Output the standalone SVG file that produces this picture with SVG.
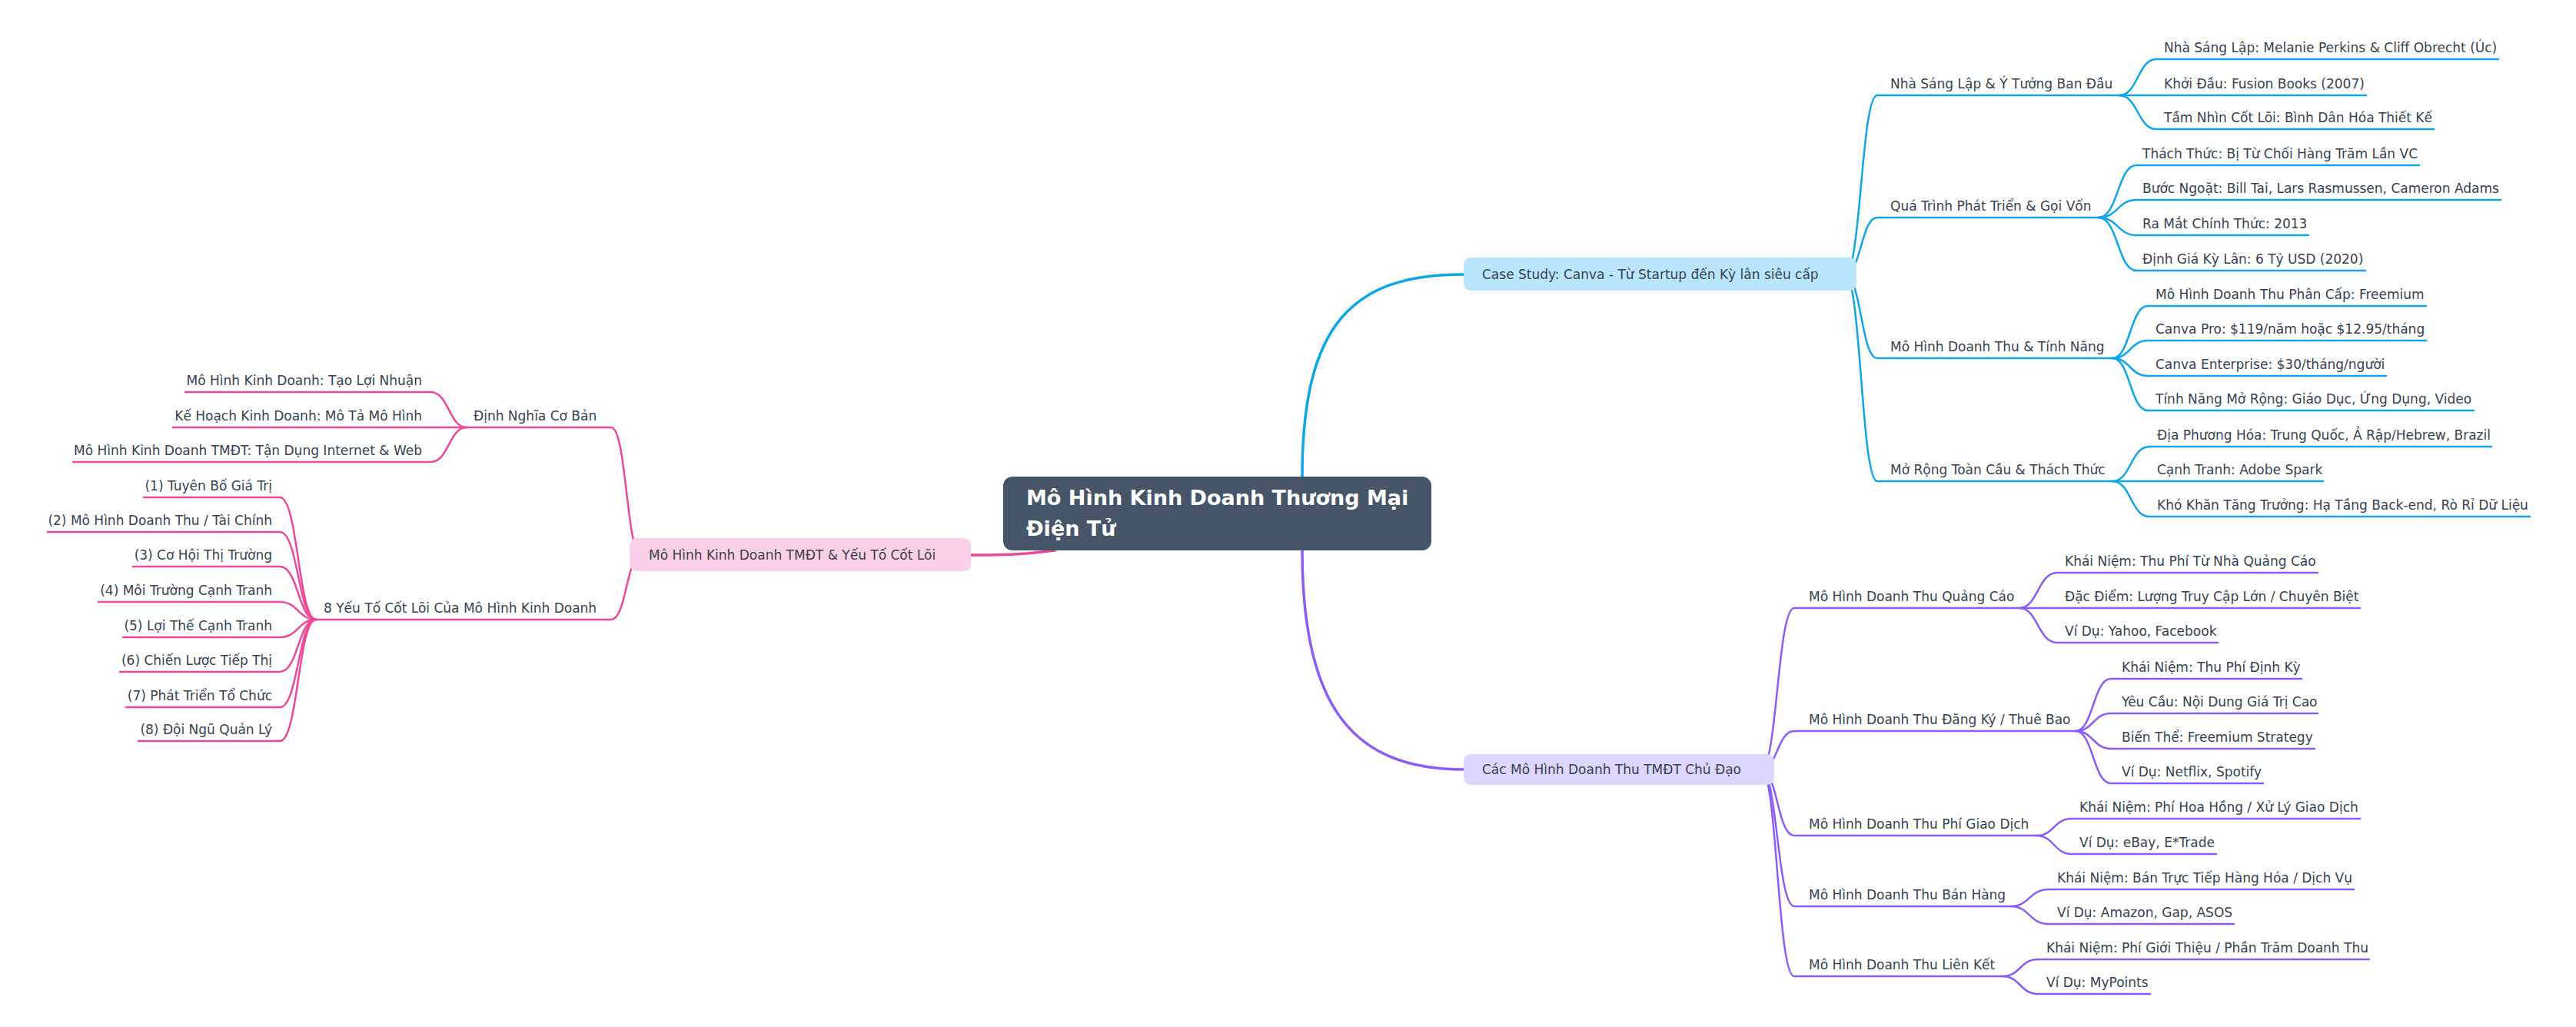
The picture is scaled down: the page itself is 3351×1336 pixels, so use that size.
<svg xmlns="http://www.w3.org/2000/svg" width="3351" height="1336" viewBox="0 0 3351 1336">
<style>
text{font-family:"DejaVu Sans","Noto Sans",sans-serif;font-size:17px;fill:#374151}
.e{text-anchor:end}
.root{font-size:27px;font-weight:bold;fill:#ffffff}
path{fill:none;stroke-linecap:round}
.b{stroke:#0ea5e9;stroke-width:2.5}
.p{stroke:#8b5cf6;stroke-width:2.5}
.k{stroke:#ec4899;stroke-width:2.5}
.t{stroke-width:3.5}
</style>
<rect width="3351" height="1336" fill="#ffffff"/>
<g id="connectors">
<path class="b t" d="M1694,620 C1694,420 1760,357 1904,357"/>
<path class="p t" d="M1694,716 C1694,920 1760,1001 1904,1001"/>
<path class="k t" d="M1372,716 C1330,722 1300,722 1263,722"/>
<!-- blue L2 -->
<path class="b" d="M2400,357 C2421,357 2421,124 2442,124 H2757"/>
<path class="b" d="M2400,357 C2421,357 2421,283 2442,283 H2730"/>
<path class="b" d="M2400,357 C2421,357 2421,466 2442,466 H2748"/>
<path class="b" d="M2400,357 C2421,357 2421,626 2442,626 H2748"/>
<!-- blue leaves -->
<path class="b" d="M2757,124 C2781,124 2781,77 2805,77 H3250"/>
<path class="b" d="M2757,124 C2781,124 2781,124 2805,124 H3078"/>
<path class="b" d="M2757,124 C2781,124 2781,168 2805,168 H3166"/>
<path class="b" d="M2730,283 C2755,283 2755,215 2779,215 H3147"/>
<path class="b" d="M2730,283 C2755,283 2755,260 2779,260 H3253"/>
<path class="b" d="M2730,283 C2755,283 2755,306 2779,306 H3003"/>
<path class="b" d="M2730,283 C2755,283 2755,352 2779,352 H3077"/>
<path class="b" d="M2748,466 C2771,466 2771,398 2794,398 H3156"/>
<path class="b" d="M2748,466 C2771,466 2771,443 2794,443 H3156"/>
<path class="b" d="M2748,466 C2771,466 2771,489 2794,489 H3104"/>
<path class="b" d="M2748,466 C2771,466 2771,534 2794,534 H3218"/>
<path class="b" d="M2748,626 C2772,626 2772,581 2796,581 H3241"/>
<path class="b" d="M2748,626 C2772,626 2772,626 2796,626 H3022"/>
<path class="b" d="M2748,626 C2772,626 2772,672 2796,672 H3291"/>
<!-- purple L2 -->
<path class="p" d="M2291,1001 C2312,1001 2312,791 2334,791 H2627"/>
<path class="p" d="M2291,1001 C2312,1001 2312,951 2334,951 H2700"/>
<path class="p" d="M2291,1001 C2312,1001 2312,1087 2334,1087 H2649"/>
<path class="p" d="M2291,1001 C2312,1001 2312,1179 2334,1179 H2616"/>
<path class="p" d="M2291,1001 C2312,1001 2312,1270 2334,1270 H2605"/>
<!-- purple leaves -->
<path class="p" d="M2627,791 C2651,791 2651,745 2676,745 H3015"/>
<path class="p" d="M2627,791 C2651,791 2651,791 2676,791 H3070"/>
<path class="p" d="M2627,791 C2651,791 2651,836 2676,836 H2885"/>
<path class="p" d="M2700,951 C2723,951 2723,883 2746,883 H2994"/>
<path class="p" d="M2700,951 C2723,951 2723,928 2746,928 H3015"/>
<path class="p" d="M2700,951 C2723,951 2723,974 2746,974 H3011"/>
<path class="p" d="M2700,951 C2723,951 2723,1019 2746,1019 H2944"/>
<path class="p" d="M2649,1087 C2672,1087 2672,1065 2695,1065 H3070"/>
<path class="p" d="M2649,1087 C2672,1087 2672,1111 2695,1111 H2883"/>
<path class="p" d="M2616,1179 C2640,1179 2640,1157 2665,1157 H3062"/>
<path class="p" d="M2616,1179 C2640,1179 2640,1202 2665,1202 H2906"/>
<path class="p" d="M2605,1270 C2628,1270 2628,1248 2651,1248 H3082"/>
<path class="p" d="M2605,1270 C2628,1270 2628,1293 2651,1293 H2797"/>
<!-- pink L2 -->
<path class="k" d="M834,722 C815,722 815,556 795,556 H607"/>
<path class="k" d="M834,722 C815,722 815,806 795,806 H411"/>
<!-- pink leaves -->
<path class="k" d="M607,556 C584,556 584,510 560,510 H241"/>
<path class="k" d="M607,556 C584,556 584,556 560,556 H225"/>
<path class="k" d="M607,556 C584,556 584,601 560,601 H95"/>
<path class="k" d="M411,806 C388,806 388,647 364,647 H187"/>
<path class="k" d="M411,806 C388,806 388,692 364,692 H62"/>
<path class="k" d="M411,806 C388,806 388,737 364,737 H173"/>
<path class="k" d="M411,806 C388,806 388,783 364,783 H128"/>
<path class="k" d="M411,806 C388,806 388,829 364,829 H160"/>
<path class="k" d="M411,806 C388,806 388,874 364,874 H156"/>
<path class="k" d="M411,806 C388,806 388,920 364,920 H164"/>
<path class="k" d="M411,806 C388,806 388,964 364,964 H180"/>
</g>
<g id="root">
<rect x="1305" y="620" width="557" height="96" rx="12" fill="#475569"/>
<text class="root" x="1335" y="657">Mô Hình Kinh Doanh Thương Mại</text>
<text class="root" x="1335" y="697">Điện Tử</text>
</g>
<g id="n-canva">
<rect x="1904" y="335" width="511" height="43" rx="9" fill="#bae6fd"/>
<text x="1928" y="363">Case Study: Canva - Từ Startup đến Kỳ lân siêu cấp</text>
</g>
<g id="n-main-models">
<rect x="1904" y="981" width="404" height="40" rx="9" fill="#ddd6fe"/>
<text x="1928" y="1007">Các Mô Hình Doanh Thu TMĐT Chủ Đạo</text>
</g>
<g id="n-core">
<rect x="819" y="700" width="444" height="43" rx="9" fill="#fbcfe8"/>
<text x="844" y="728">Mô Hình Kinh Doanh TMĐT &amp; Yếu Tố Cốt Lõi</text>
</g>
<g id="blue-children">
<text x="2459" y="115">Nhà Sáng Lập &amp; Ý Tưởng Ban Đầu</text>
<text x="2459" y="274">Quá Trình Phát Triển &amp; Gọi Vốn</text>
<text x="2459" y="457">Mô Hình Doanh Thu &amp; Tính Năng</text>
<text x="2459" y="617">Mở Rộng Toàn Cầu &amp; Thách Thức</text>
<text x="2815" y="68">Nhà Sáng Lập: Melanie Perkins &amp; Cliff Obrecht (Úc)</text>
<text x="2815" y="115">Khởi Đầu: Fusion Books (2007)</text>
<text x="2815" y="159">Tầm Nhìn Cốt Lõi: Bình Dân Hóa Thiết Kế</text>
<text x="2787" y="206">Thách Thức: Bị Từ Chối Hàng Trăm Lần VC</text>
<text x="2787" y="251">Bước Ngoặt: Bill Tai, Lars Rasmussen, Cameron Adams</text>
<text x="2787" y="297">Ra Mắt Chính Thức: 2013</text>
<text x="2787" y="343">Định Giá Kỳ Lân: 6 Tỷ USD (2020)</text>
<text x="2804" y="389">Mô Hình Doanh Thu Phân Cấp: Freemium</text>
<text x="2804" y="434">Canva Pro: $119/năm hoặc $12.95/tháng</text>
<text x="2804" y="480">Canva Enterprise: $30/tháng/người</text>
<text x="2804" y="525">Tính Năng Mở Rộng: Giáo Dục, Ứng Dụng, Video</text>
<text x="2806" y="572">Địa Phương Hóa: Trung Quốc, Ả Rập/Hebrew, Brazil</text>
<text x="2806" y="617">Cạnh Tranh: Adobe Spark</text>
<text x="2806" y="663">Khó Khăn Tăng Trưởng: Hạ Tầng Back-end, Rò Rỉ Dữ Liệu</text>
</g>
<g id="purple-children">
<text x="2353" y="782">Mô Hình Doanh Thu Quảng Cáo</text>
<text x="2353" y="942">Mô Hình Doanh Thu Đăng Ký / Thuê Bao</text>
<text x="2353" y="1078">Mô Hình Doanh Thu Phí Giao Dịch</text>
<text x="2353" y="1170">Mô Hình Doanh Thu Bán Hàng</text>
<text x="2353" y="1261">Mô Hình Doanh Thu Liên Kết</text>
<text x="2686" y="736">Khái Niệm: Thu Phí Từ Nhà Quảng Cáo</text>
<text x="2686" y="782">Đặc Điểm: Lượng Truy Cập Lớn / Chuyên Biệt</text>
<text x="2686" y="827">Ví Dụ: Yahoo, Facebook</text>
<text x="2760" y="874">Khái Niệm: Thu Phí Định Kỳ</text>
<text x="2760" y="919">Yêu Cầu: Nội Dung Giá Trị Cao</text>
<text x="2760" y="965">Biến Thể: Freemium Strategy</text>
<text x="2760" y="1010">Ví Dụ: Netflix, Spotify</text>
<text x="2705" y="1056">Khái Niệm: Phí Hoa Hồng / Xử Lý Giao Dịch</text>
<text x="2705" y="1102">Ví Dụ: eBay, E*Trade</text>
<text x="2676" y="1148">Khái Niệm: Bán Trực Tiếp Hàng Hóa / Dịch Vụ</text>
<text x="2676" y="1193">Ví Dụ: Amazon, Gap, ASOS</text>
<text x="2662" y="1239">Khái Niệm: Phí Giới Thiệu / Phần Trăm Doanh Thu</text>
<text x="2662" y="1284">Ví Dụ: MyPoints</text>
</g>
<g id="pink-children">
<text x="616" y="547">Định Nghĩa Cơ Bản</text>
<text x="421" y="797">8 Yếu Tố Cốt Lõi Của Mô Hình Kinh Doanh</text>
<text class="e" x="549" y="501">Mô Hình Kinh Doanh: Tạo Lợi Nhuận</text>
<text class="e" x="549" y="547">Kế Hoạch Kinh Doanh: Mô Tả Mô Hình</text>
<text class="e" x="549" y="592">Mô Hình Kinh Doanh TMĐT: Tận Dụng Internet &amp; Web</text>
<text class="e" x="354" y="638">(1) Tuyên Bố Giá Trị</text>
<text class="e" x="354" y="683">(2) Mô Hình Doanh Thu / Tài Chính</text>
<text class="e" x="354" y="728">(3) Cơ Hội Thị Trường</text>
<text class="e" x="354" y="774">(4) Môi Trường Cạnh Tranh</text>
<text class="e" x="354" y="820">(5) Lợi Thế Cạnh Tranh</text>
<text class="e" x="354" y="865">(6) Chiến Lược Tiếp Thị</text>
<text class="e" x="354" y="911">(7) Phát Triển Tổ Chức</text>
<text class="e" x="354" y="955">(8) Đội Ngũ Quản Lý</text>
</g>
</svg>
